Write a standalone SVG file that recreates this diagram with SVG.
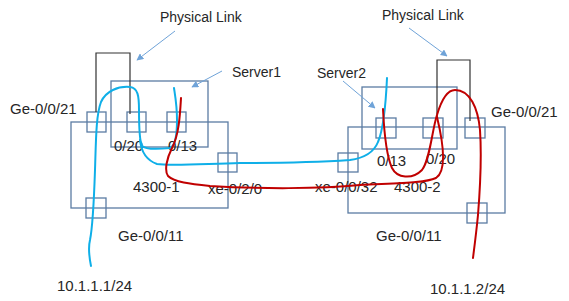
<svg xmlns="http://www.w3.org/2000/svg" width="569" height="301" viewBox="0 0 569 301">
<defs>
<style>
.box{fill:none;stroke:#5B7CA3;stroke-width:1.3}
.port{fill:none;stroke:#5B7CA3;stroke-width:1.3}
.t{font-family:"Liberation Sans",Arial,sans-serif;font-size:15px;fill:#262626}
.ts{font-family:"Liberation Sans",Arial,sans-serif;font-size:14px;fill:#262626}
.cy{fill:none;stroke:#0FAFE8;stroke-width:2;stroke-linecap:round;stroke-linejoin:round}
.rd{fill:none;stroke:#C00000;stroke-width:2;stroke-linecap:round;stroke-linejoin:round}
.bk{fill:none;stroke:#333;stroke-width:1.2}
.ar{fill:none;stroke:#6FA3D8;stroke-width:1;marker-end:url(#ah)}
</style>
<marker id="ah" viewBox="0 0 10 10" refX="9" refY="5" markerWidth="7" markerHeight="7" orient="auto" markerUnits="userSpaceOnUse">
<path d="M0,0 L10,5 L0,10 z" fill="#6FA3D8"/>
</marker>
</defs>
<rect width="569" height="301" fill="#fff"/>

<g id="switch1">
<rect class="box" x="71" y="122" width="157" height="86"/>
<text class="t" x="133" y="192">4300-1</text>
</g>
<g id="server1">
<rect class="box" x="111" y="81" width="97" height="66"/>
<text class="ts" x="232" y="77">Server1</text>
</g>
<g id="switch2">
<rect class="box" x="348" y="127" width="157" height="86"/>
<text class="t" x="394" y="192">4300-2</text>
</g>
<g id="server2">
<rect class="box" x="362" y="87" width="95" height="62"/>
<text class="ts" x="317" y="78">Server2</text>
</g>

<g id="port-s1-ge21">
<rect class="port" x="87" y="112" width="19" height="20"/>
<text class="t" x="10" y="114">Ge-0/0/21</text>
</g>
<g id="port-s1-020">
<rect class="port" x="127" y="112" width="19" height="20"/>
<text class="t" x="114" y="151">0/20</text>
</g>
<g id="port-s1-013">
<rect class="port" x="167" y="112" width="19" height="20"/>
<text class="t" x="168" y="151">0/13</text>
</g>
<g id="port-s1-xe">
<rect class="port" x="218" y="153" width="19" height="19"/>
<text class="t" x="208" y="194">xe-0/2/0</text>
</g>
<g id="port-s1-ge11">
<rect class="port" x="86" y="198" width="20" height="20"/>
<text class="t" x="118" y="241">Ge-0/0/11</text>
</g>
<g id="host1">
<text class="t" x="57" y="291">10.1.1.1/24</text>
</g>

<g id="port-s2-013">
<rect class="port" x="376" y="118" width="20" height="20"/>
<text class="t" x="377" y="166">0/13</text>
</g>
<g id="port-s2-020">
<rect class="port" x="423" y="118" width="20" height="20"/>
<text class="t" x="426" y="164">0/20</text>
</g>
<g id="port-s2-ge21">
<rect class="port" x="465" y="118" width="20" height="20"/>
<text class="t" x="491" y="117">Ge-0/0/21</text>
</g>
<g id="port-s2-xe">
<rect class="port" x="338" y="153" width="20" height="19"/>
<text class="t" x="315" y="192">xe-0/0/32</text>
</g>
<g id="port-s2-ge11">
<rect class="port" x="467" y="203" width="20" height="20"/>
<text class="t" x="376" y="241">Ge-0/0/11</text>
</g>
<g id="host2">
<text class="t" x="430" y="294">10.1.1.2/24</text>
</g>

<g id="label-physical-left">
<text class="ts" x="160" y="22">Physical Link</text>
</g>
<g id="label-physical-right">
<text class="ts" x="382" y="20">Physical Link</text>
</g>

<g id="connectors">
<path class="bk" d="M96,112 V53 H130 V114"/>
<path class="bk" d="M437,118 V60 H470 V121"/>
<path class="ar" d="M175,31 L137,60"/>
<path class="ar" d="M222,71 L192,87"/>
<path class="ar" d="M409,28 L447,56"/>
<path class="ar" d="M343,81 L375,108"/>

<path class="cy" d="M91,266 C89,256 88,248 90,240 C93,225 94,200 95,170 C96,140 96,115 101,102 C106,91 118,86 130,87 C138,88 139,96 139,110 C139,125 139,140 142,146 C146,150 160,149 170,148 C175,146 177,135 177,120 C177,105 175,95 174,88"/>
<path class="cy" d="M140,140 C141,150 146,160 157,164 C170,166 200,164 240,163 C280,163 320,162 350,160 C365,158 374,152 378,142 C384,128 386,100 387,78"/>

<path class="rd" d="M181,98 C180,115 179,135 172,148 C167,158 164,170 168,176 C174,182 190,184 210,186 C260,189 320,189 360,185 C400,183 425,183 436,178 C445,172 445,150 437,117"/>
<path class="rd" d="M383,109 C384,130 386,155 392,168 C397,178 412,180 422,170 C430,160 432,130 437,115 C442,98 448,90 455,90 C470,90 478,108 480,130 C482,160 480,190 478,215 C476,235 474,250 473,258"/>
</g>
</svg>
